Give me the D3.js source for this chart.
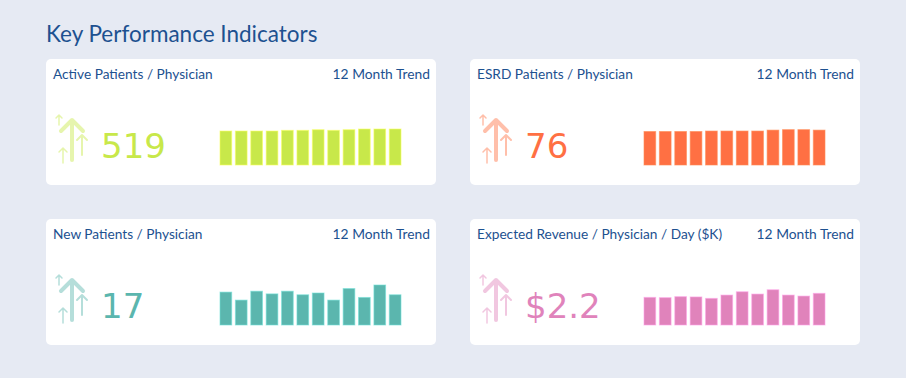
<!DOCTYPE html>
<html>
<head>
<meta charset="utf-8">
<script src="https://cdn.jsdelivr.net/npm/d3@7"></script>
<style>
  body { margin: 0; background: #e6eaf3; }
  svg { display: block; }
</style>
</head>
<body>
<svg id="chart" width="906" height="378"></svg>
<script>
// KPI data
var kpiTitles = ["Active Patients / Physician", "ESRD Patients / Physician",
                 "New Patients / Physician", "Expected Revenue / Physician / Day ($K)"];
var kpiValues = ["519", "76", "17", "$2.2"];
var kpiColors = ["#c8e84a", "#ff7043", "#5bb6ae", "#e083bb"];
var trendLabel = "12 Month Trend";
var months = ["M1","M2","M3","M4","M5","M6","M7","M8","M9","M10","M11","M12"];
var activeTrend  = [490, 490, 490, 490, 500, 500, 509, 500, 509, 519, 519, 519];
var esrdTrend    = [72, 72, 72, 72, 73, 73, 73, 73, 75, 76, 76, 75];
var newTrend     = [18.5, 14, 19, 17.5, 19, 17, 18, 14, 20.5, 15.5, 22.5, 17];
var revenueTrend = [1.92, 1.9, 1.97, 1.95, 1.85, 2.08, 2.31, 2.15, 2.45, 2.08, 2.01, 2.2];
var trendTop     = [577, 86, 22.5, 2.78];   // y-domain top per card
var trends = [activeTrend, esrdTrend, newTrend, revenueTrend];

var svg = d3.select("#chart");

svg.append("text")
    .attr("x", 46).attr("y", 42)
    .attr("font-family", "Lato")
    .attr("font-size", 22.5)
    .attr("fill", "#1d5190")
    .text("Key Performance Indicators");

var cardW = 390, cardH = 126;
var cardX = [46, 470, 46, 470];
var cardY = [59, 59, 219, 219];

kpiTitles.forEach(function(title, i){
    var c = kpiColors[i];
    var g = svg.append("g")
        .attr("transform", "translate(" + cardX[i] + "," + cardY[i] + ")");

    g.append("rect")
        .attr("width", cardW).attr("height", cardH)
        .attr("rx", 5)
        .attr("fill", "#ffffff");

    g.append("text")
        .attr("x", 7).attr("y", 20)
        .attr("font-family", "Lato").attr("font-size", 13.7)
        .attr("fill", "#1d5190")
        .text(title);

    g.append("text")
        .attr("x", cardW - 6).attr("y", 20)
        .attr("text-anchor", "end")
        .attr("font-family", "Lato").attr("font-size", 13.8)
        .attr("fill", "#1d5190")
        .text(trendLabel);

    // arrow icon (faded copies of the card colour)
    var arrows = [
        {x: 26, y1: 61, y2: 101, w: 11, h: 11, sw: 4},
        {x: 13, y1: 56, y2: 66, w: 3, h: 3, sw: 1.5},
        {x: 36, y1: 76, y2: 96, w: 5, h: 5, sw: 2},
        {x: 17, y1: 89, y2: 104, w: 4, h: 4, sw: 1.5}
    ];
    var ag = g.append("g")
        .attr("stroke", c)
        .attr("stroke-opacity", 0.45)
        .attr("fill", "none")
        .attr("stroke-linecap", "round")
        .attr("stroke-linejoin", "round");
    arrows.forEach(function(a){
        ag.append("path")
            .attr("stroke-width", a.sw)
            .attr("d", "M" + a.x + "," + a.y2 + "V" + a.y1 +
                       "M" + (a.x - a.w) + "," + (a.y1 + a.h) + "L" + a.x + "," + a.y1 +
                       "L" + (a.x + a.w) + "," + (a.y1 + a.h));
    });

    g.append("text")
        .attr("x", 55).attr("y", 99)
        .attr("font-family", "DejaVu Sans").attr("font-size", 34)
        .attr("fill", c)
        .text(kpiValues[i]);

    // trend bars
    var x = d3.scaleBand().domain(months).range([174, 355]).paddingInner(0.24);
    var y = d3.scaleLinear().domain([0, trendTop[i]]).range([106, 66]);
    g.append("g").selectAll("rect")
        .data(trends[i])
        .enter().append("rect")
        .attr("x", function(d, j){ return x(months[j]); })
        .attr("y", function(d){ return y(d); })
        .attr("width", x.bandwidth())
        .attr("height", function(d){ return y(0) - y(d); })
        .attr("fill", c)
        .attr("stroke", d3.color(c).brighter(0.6))
        .attr("stroke-opacity", 0.6)
        .attr("stroke-width", 1);
});
</script>
</body>
</html>
